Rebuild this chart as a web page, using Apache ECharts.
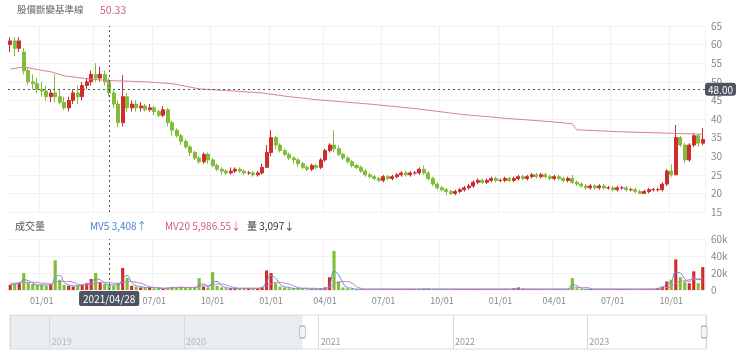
<!DOCTYPE html>
<html><head><meta charset="utf-8">
<script src="https://cdn.jsdelivr.net/npm/echarts@6/dist/echarts.min.js"></script>
<style>html,body{margin:0;padding:0;background:#fff}#c{width:740px;height:357px}</style>
</head><body><div id="c"></div>
<script>
// weekly categories (Wednesdays), Lunar New Year weeks have no trading
const firstWeek = Date.UTC(2020, 10, 18);
const lastWeek = Date.UTC(2023, 10, 22);
const skipWeeks = ['2021/02/10', '2022/02/02', '2023/01/25'];
function fmt(t){const d=new Date(t);return d.getUTCFullYear()+'/'+String(d.getUTCMonth()+1).padStart(2,'0')+'/'+String(d.getUTCDate()).padStart(2,'0');}
const dates = [];
for (let t = firstWeek; t <= lastWeek; t += 7*864e5) { const s = fmt(t); if (!skipWeeks.includes(s)) dates.push(s); }

const open = [60,61,59,58,53,50,49.5,48,47.5,46, 47,46,44.5,43,45,47,46,49,50,52, 51,52,50,47,44,39,46,43,44,43, 43.5,42.5,43,42,41,42.5,39,37,35.5,34, 32.5,31,29.5,28.5,30.5,29,27.5,26.5,26,25.5, 26,26.5,26,25.5,25.5,25,25.5,27,31,35, 33,31.5,30.5,29.5,29,28,27,26.5,27.5,27, 29,31.5,33,32,30.5,29.5,28.5,27.5,27,26, 25,24.5,24,23.5,24.5,24,24.5,25,25.5,25, 25.5,25.5,26.5,25.5,24,22.5,21.5,21,20.5,20, 20.5,21,21.5,22,23,23.5,23,23.5,24,23.5, 23.5,24,23.5,24,24.5,24,24.5,25,24.5,25, 24.5,24,24.5,24,23.5,24,23,22.5,22,21.5, 22,21.5,22,21.5,21.5,21,21.5,21.5,21,21, 20.5,20,20.5,21,21,21,22.5,26,25,35, 33,29,33,35.5,33.5];
const close = [61,59,61,53,50,49.5,48,47.5,46,47, 46,44.5,43,45,47,46,49,50,52,51, 52,50,47,44,39,46,43,44,43,43.5, 42.5,43,42,41,42.5,39,37,35.5,34,32.5, 31,29.5,28.5,30.5,29,27.5,26.5,26,25.5,26, 26.5,26,25.5,25.5,25,25.5,27,31,35,33, 31.5,30.5,29.5,29,28,27,26.5,27.5,27,29, 31.5,33,32,30.5,29.5,28.5,27.5,27,26,25, 24.5,24,23.5,24.5,24,24.5,25,25.5,25,25.5, 25.5,26.5,25.5,24,22.5,21.5,21,20.5,20,20.5, 21,21.5,22,23,23.5,23,23.5,24,23.5,23.5, 24,23.5,24,24.5,24,24.5,25,24.5,25,24.5, 24,24.5,24,23.5,24,23,22.5,22,21.5,22, 21.5,22,21.5,21.5,21,21.5,21.5,21,21,20.5, 20,20.5,21,21,21,22.5,26,25,35,33, 29,33,35.5,33.5,34.5];
const low = [58,57,58,52,49,48,47,46,45,44.5, 44.5,44,42.5,42,44,44,45,48,49,50, 50,49,46,43,37.8,38,42,42,42,42, 42,42,41,40.5,40.5,38,35.5,35,33,32, 30,29,28,28,28,27,26,25,25,25, 25.5,25.5,25,25,24.5,24.5,25,27,30,32, 31,30,29,28,27,26.5,26,26,26.5,26.5, 28.5,31,31,30,29,28,27,26.5,25.5,24.5, 24,23.5,23,23,23.5,23.5,24,24.5,24.5,24.5, 25,25,25,23.5,22,21,20.5,19.5,19.5,19.5, 20,20.5,21,21.5,22.5,22.5,22.5,23,23,23, 23,23,23,23.5,23.5,23.5,24,24,24,24, 23.5,23.5,23.5,23,23,22.5,22,21.5,21,21, 21,21,21,21,20.5,20.5,21,20.5,20.5,20, 19.8,19.8,20,20.5,20.5,20.5,22,24.5,25,32.5, 28.2,28.5,32.5,32.5,33];
const high = [62,62,62,59,54,52,51,50,49,48, 52,48,46,46,48,49,50,51,53,55, 54,53,51,48,45,51.8,47,45,45,44.5, 44,44,43.5,42.5,43.5,43,39.5,37.5,36,34.5, 33,31.5,30,31,31,29.5,28,27,26.5,27, 27,27,26.5,26,26,26,28,33,37,35.5, 33.5,32,31,30,29.5,28.5,27.5,28,28,29.5, 32,33.5,37,33,31,30,29,28,27.5,26.5, 25.5,25,24.5,25,25,25,25.5,26,26,26, 26,27,27.5,26,24.5,23,22,21.5,21,21, 21.5,22,22.5,23.5,24,24,24,24.5,24.5,24, 24.5,24.5,24.5,25,25,25,25.5,25.5,25.5,25.5, 25,25,25,24.5,24.5,25,23.5,23,22.5,22.5, 22.5,22.5,22.5,22,22,22,22,22,21.5,21.5, 21,21,21.5,21.5,21.5,23,26.5,27.8,38.4,35.5, 33.5,33.5,36.2,36,37.6];
// baseline line keyframes: [category index, value]
const baseline = [[0,53.4],[3,54.0],[6,53.3],[9,52.7],[12,51.6],[18,50.7],[22,50.33],[30,50.0],[36,49.5],[42,48.1],[50,47.5],[56,47.0],[62,46.0],[68,45.2],[80,44.0],[90,42.8],[100,41.3],[110,40.2],[120,39.3],[125,38.7],[126,37.1],[135,36.6],[154,35.9]];
// volume (thousand shares)
const volume = [6,7,9,20,9,7,6,6,5,7, 35,12,6,5,4,5,6,8,13,20, 9,7,6,5,8,26,14,5,4,3, 3,3,2,2,2,3,3,3,4,3, 3,3,14,4,3,21,5,3,2,2, 2,2,2,2,2,2,3,23,20,8, 4,3,2,2,2,2,1,1,1,2, 3,15,46,10,3,2,1,1,1,1, 1,1,1,1,1,1,1,1,1,1, 1,1,2,2,1,1,1,1,1,1, 1,1,1,1,1,1,1,1,1,1, 1,1,2,3,2,1,1,1,1,1, 1,1,1,1,1,14,2,1,1,1, 1,1,1,1,1,1,1,1,1,1, 1,1,1,1,2,4,10,12,36,15, 10,8,22,8,27];
const mv5 = [6,7,8,12,11,8,6,6,6,6, 15,17,9,6,5,5,6,7,9,13, 12,8,6,6,6,13,17,9,5,4, 3,3,3,2,2,2,3,3,3,3, 3,3,6,7,4,9,10,5,3,2, 2,2,2,2,2,2,3,10,17,14, 7,4,3,2,2,2,2,1,1,1, 2,6,22,18,8,3,2,1,1,1, 1,1,1,1,1,1,1,1,1,1, 1,1,1,1,1,1,1,1,1,1, 1,1,1,1,1,1,1,1,1,1, 1,1,1,1,1,1,1,1,1,1, 1,1,1,1,1,6,5,2,1,1, 1,1,1,1,1,1,1,1,1,1, 1,1,1,1,2,3,7,10,21,20, 13,10,15,12,14];
const mv20 = [8,8,8,9,9,9,9,8,8,7, 9,10,10,10,9,7,6,6,7,8, 9,9,9,8,8,9,10,10,9,8, 6,4,3,3,2,2,2,3,3,3, 3,3,4,5,5,6,7,7,6,4, 3,2,2,2,2,2,3,5,7,9, 9,8,7,5,3,2,2,2,2,1, 1,3,7,9,10,10,8,4,2,1, 1,1,1,1,1,1,1,1,1,1, 1,1,1,1,1,1,1,1,1,1, 1,1,1,1,1,1,1,1,1,1, 1,1,1,1,1,1,1,1,1,1, 1,1,1,1,1,2,3,3,3,2, 1,1,1,1,1,1,1,1,1,1, 1,1,1,1,1,2,3,4,8,10, 11,12,13,13,14];
const priceTicks = {min: 15, max: 65, step: 5};
const volTicks = {min: 0, max: 60000, step: 20000};
const pointerDate = '2021/04/28';
const pointerPrice = 48;
// overview slider (time range of full history)
const overviewStart = '2018-09-15', overviewEnd = '2023-11-20';
const windowStart = '2020-11-18', windowEnd = '2023-11-15';

const UP = '#d12c2c', DOWN = '#82bd3a';
const candles = open.map((o, i) => [o, close[i], low[i], high[i]]);
const volBars = volume.map((v, i) => ({value: v*1000, itemStyle: {color: close[i] >= open[i] ? UP : DOWN}}));
function isQuarterStart(i){ if (i === 0) return false; const m = dates[i].slice(5,7), pm = dates[i-1].slice(5,7); return m !== pm && ['01','04','07','10'].includes(m); }
const pIdx = dates.indexOf(pointerDate);

const chart = echarts.init(document.getElementById('c'));
const FONT = "'Noto Sans CJK TC','Noto Sans',sans-serif";
const dash = {type: [2, 3], color: '#555', width: 1};
const T = (left, top, text, color, size) => ({left, top, text, padding: 0, textStyle: {fontSize: size, fontWeight: 'normal', color}});
chart.setOption({
  animation: false,
  textStyle: {fontFamily: FONT},
  title: [
    T(17, 5, '股價斷變基準線', '#666', 9.5),
    T(100, 5, '50.33', '#d0588a', 10.5),
    T(15, 221, '成交量', '#555', 10),
    T(90, 221, 'MV5 3,408↑', '#4a7fd6', 10),
    T(165, 221, 'MV20 5,986.55↓', '#d0588a', 10),
    T(247, 221, '量 3,097↓', '#333', 10)
  ],
  grid: [
    {left: 8, right: 35, top: 26, height: 186},
    {left: 8, right: 35, top: 239, height: 51},
    {left: 10, right: 34, top: 315, height: 34, show: true, borderColor: '#dcdcdc', borderWidth: 1}
  ],
  xAxis: [
    {type: 'category', gridIndex: 0, data: dates, boundaryGap: true,
     axisLine: {show: false}, axisTick: {show: false}, axisLabel: {show: false},
     splitLine: {show: true, interval: (i) => isQuarterStart(i), lineStyle: {color: '#f1f1f1'}},
     axisPointer: {show: true, value: pIdx, status: 'show', type: 'line', triggerTooltip: false, lineStyle: dash, label: {show: false}}},
    {type: 'category', gridIndex: 1, data: dates, boundaryGap: true,
     axisLine: {show: false}, axisTick: {show: false},
     axisLabel: {interval: (i) => isQuarterStart(i), formatter: (v) => v.slice(5,7) + '/01', color: '#888', fontSize: 9, margin: 6},
     splitLine: {show: true, interval: (i) => isQuarterStart(i), lineStyle: {color: '#f1f1f1'}},
     axisPointer: {show: true, value: pIdx, status: 'show', type: 'line', triggerTooltip: false, lineStyle: dash,
       label: {show: true, formatter: (p) => p.value, backgroundColor: '#4d5363', color: '#fff', fontSize: 10, padding: [3, 4, 2, 4], margin: 1, borderRadius: 2}}},
    {type: 'time', gridIndex: 2, min: overviewStart, max: overviewEnd,
     minInterval: 300*864e5, maxInterval: 370*864e5,
     axisLine: {show: false}, axisTick: {show: false},
     axisLabel: {inside: true, formatter: '{yyyy}', align: 'left', color: '#999', fontSize: 9, margin: 3, padding: [0,0,0,2], showMinLabel: false, showMaxLabel: false},
     splitLine: {show: true, lineStyle: {color: '#d8d8d8'}}}
  ],
  yAxis: [
    {type: 'value', gridIndex: 0, position: 'right', min: priceTicks.min, max: priceTicks.max, interval: priceTicks.step,
     axisLine: {show: false}, axisTick: {show: false},
     axisLabel: {color: '#888', fontSize: 10, margin: 6},
     splitLine: {lineStyle: {color: '#f3f3f3'}},
     axisPointer: {show: true, value: pointerPrice, status: 'show', type: 'line', triggerTooltip: false, lineStyle: dash,
       label: {show: true, formatter: (p) => Number(p.value).toFixed(2), backgroundColor: '#4d5363', color: '#fff', fontSize: 10, padding: [2, 3, 1, 3], margin: 0}}},
    {type: 'value', gridIndex: 1, position: 'right', min: volTicks.min, max: volTicks.max, interval: volTicks.step,
     axisLine: {show: false}, axisTick: {show: false},
     axisLabel: {color: '#888', fontSize: 10, margin: 6, formatter: (v) => v === 0 ? '0' : (v/1000) + 'k'},
     splitLine: {lineStyle: {color: '#f3f3f3'}}},
    {type: 'value', gridIndex: 2, min: 0, max: 1, show: false}
  ],
  series: [
    {type: 'candlestick', name: 'K', xAxisIndex: 0, yAxisIndex: 0, data: candles, barWidth: '78%',
     itemStyle: {color: UP, color0: DOWN, borderColor: UP, borderColor0: DOWN, borderWidth: 1}},
    {type: 'line', name: 'baseline', xAxisIndex: 0, yAxisIndex: 0, data: baseline, showSymbol: false, connectNulls: true,
     lineStyle: {color: '#d97f9c', width: 1}},
    {type: 'bar', name: '量', xAxisIndex: 1, yAxisIndex: 1, data: volBars, barWidth: '70%'},
    {type: 'line', name: 'MV5', xAxisIndex: 1, yAxisIndex: 1, data: mv5.map(v => v*1000), showSymbol: false, smooth: true,
     lineStyle: {color: '#5b8ee0', width: 1}},
    {type: 'line', name: 'MV20', xAxisIndex: 1, yAxisIndex: 1, data: mv20.map(v => v*1000), showSymbol: false, smooth: true,
     lineStyle: {color: '#c97bb8', width: 1}},
    {type: 'line', xAxisIndex: 2, yAxisIndex: 2, data: [[overviewStart, 0.5]], showSymbol: false, lineStyle: {opacity: 0},
     markArea: {silent: true, itemStyle: {color: 'rgba(214,219,226,0.5)'}, data: [[{xAxis: overviewStart}, {xAxis: windowStart}]]}},
    {type: 'scatter', xAxisIndex: 2, yAxisIndex: 2, data: [[windowStart, 0.5], [windowEnd, 0.5]], symbol: 'roundRect', symbolSize: [6, 12],
     itemStyle: {color: '#f4f4f4', borderColor: '#a8a8a8', borderWidth: 1}, silent: true, z: 5}
  ]
});
</script></body></html>
